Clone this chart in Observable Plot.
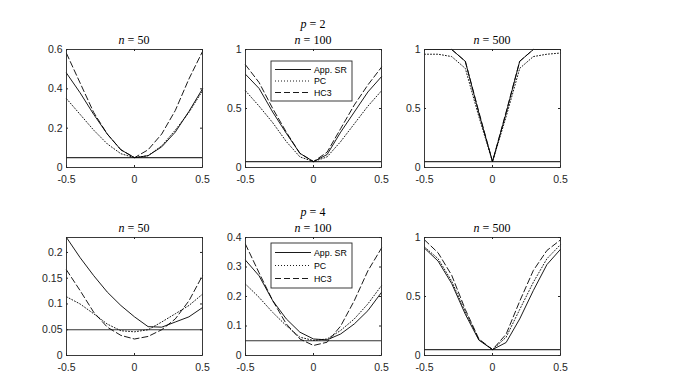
<!DOCTYPE html>
<html><head><meta charset="utf-8">
<script src="https://cdn.jsdelivr.net/npm/d3@7"></script>
<script src="https://cdn.jsdelivr.net/npm/@observablehq/plot@0.6"></script>
<style>
body{margin:0;background:#fff;}
#chart{position:relative;width:674px;height:375px;overflow:hidden;background:#fff;font-family:"Liberation Sans",Arial,sans-serif;}
.panel{position:absolute;}
.ttl{position:absolute;font-family:"Liberation Serif","Times New Roman",serif;font-size:12px;line-height:1;color:#000;white-space:nowrap;transform:translate(-50%,-50%);}
.leg{position:absolute;}
</style></head><body><div id="chart"></div>
<script>
// ---------- data ----------
const xValues = [-0.5,-0.4,-0.3,-0.2,-0.1,0,0.1,0.2,0.3,0.4,0.5];
const seriesNames = ["App. SR","PC","HC3"];
const nominalLevel = 0.05;
const pValues = [2,4];
const nValues = [50,100,500];
const xTicks = [-0.5,0,0.5];

// p = 2
const p2n50_SR  = [0.48,0.38,0.27,0.17,0.09,0.05,0.06,0.105,0.18,0.285,0.40];
const p2n50_PC  = [0.35,0.27,0.19,0.12,0.07,0.05,0.06,0.11,0.19,0.28,0.39];
const p2n50_HC3 = [0.58,0.43,0.28,0.17,0.09,0.05,0.09,0.17,0.29,0.45,0.59];
const p2n100_SR  = [0.79,0.67,0.47,0.29,0.12,0.05,0.11,0.30,0.47,0.64,0.77];
const p2n100_PC  = [0.65,0.52,0.38,0.22,0.09,0.05,0.09,0.22,0.37,0.52,0.65];
const p2n100_HC3 = [0.87,0.72,0.50,0.30,0.12,0.05,0.13,0.33,0.53,0.70,0.85];
const p2n500_SR  = [1.0,1.0,1.0,0.90,0.46,0.05,0.46,0.90,1.0,1.0,1.0];
const p2n500_PC  = [0.96,0.96,0.94,0.84,0.43,0.05,0.43,0.84,0.94,0.96,0.97];
const p2n500_HC3 = [1.0,1.0,1.0,0.90,0.47,0.05,0.47,0.90,1.0,1.0,1.0];
// p = 4
const p4n50_SR  = [0.229,0.19,0.155,0.123,0.097,0.075,0.056,0.055,0.065,0.075,0.093];
const p4n50_PC  = [0.114,0.10,0.081,0.061,0.048,0.046,0.05,0.065,0.081,0.097,0.119];
const p4n50_HC3 = [0.166,0.126,0.084,0.055,0.039,0.032,0.037,0.05,0.071,0.106,0.155];
const p4n100_SR  = [0.323,0.27,0.186,0.124,0.079,0.056,0.053,0.073,0.107,0.152,0.214];
const p4n100_PC  = [0.242,0.197,0.146,0.101,0.062,0.051,0.056,0.085,0.124,0.175,0.237];
const p4n100_HC3 = [0.377,0.28,0.186,0.107,0.056,0.034,0.045,0.10,0.186,0.287,0.364];
const p4n500_SR  = [0.91,0.80,0.61,0.35,0.13,0.05,0.11,0.31,0.55,0.77,0.90];
const p4n500_PC  = [0.92,0.82,0.63,0.37,0.135,0.05,0.155,0.39,0.62,0.82,0.94];
const p4n500_HC3 = [0.98,0.87,0.68,0.39,0.14,0.05,0.18,0.46,0.72,0.89,0.98];

const yDomains = [[0,0.6],[0,1],[0,1],[0,0.229],[0,0.4],[0,1]];
const yTickSets = [[0,0.2,0.4,0.6],[0,0.5,1],[0,0.5,1],[0,0.05,0.1,0.15,0.2],[0,0.1,0.2,0.3,0.4],[0,0.5,1]];

const panels = [
  [p2n50_SR,p2n50_PC,p2n50_HC3],[p2n100_SR,p2n100_PC,p2n100_HC3],[p2n500_SR,p2n500_PC,p2n500_HC3],
  [p4n50_SR,p4n50_PC,p4n50_HC3],[p4n100_SR,p4n100_PC,p4n100_HC3],[p4n500_SR,p4n500_PC,p4n500_HC3]
];

// ---------- layout ----------
const frameLefts = [66,245,424];
const frameTops = [49,237];
const frameW = 136, frameH = 118;
const mL = 34, mR = 12, mT = 4, mB = 22;
const dashes = [null, "1,2", "6,3"];
const axisColor = "#262626";
const fmt = d => String(d);
const chart = document.getElementById("chart");

panels.forEach((series, k) => {
  const row = Math.floor(k/3), col = k%3;
  const rows = [];
  series.forEach((vals,i) => vals.forEach((v,j) => rows.push({series:seriesNames[i], x:xValues[j], y:v})));
  const yT = yTickSets[k];
  const svg = Plot.plot({
    width: frameW+mL+mR, height: frameH+mT+mB,
    marginLeft:mL, marginRight:mR, marginTop:mT, marginBottom:mB,
    x:{domain:[-0.5,0.5], label:null}, y:{domain:yDomains[k], label:null},
    style:{fontFamily:'"Liberation Sans",Arial,sans-serif', fontSize:"10.5px", color:axisColor, background:"transparent", overflow:"visible"},
    marks:[
      Plot.ruleY([nominalLevel], {stroke:"#333", strokeWidth:1.1}),
      ...seriesNames.map((s,i) => Plot.line(rows.filter(r => r.series===s), {x:"x", y:"y", stroke:"#000", strokeWidth:0.9, strokeDasharray:dashes[i]})),
      Plot.frame({stroke:axisColor, strokeWidth:0.9}),
      Plot.tickX(xTicks, {x:d=>d, insetTop:frameH-2, stroke:axisColor}),
      Plot.tickX(xTicks, {x:d=>d, insetBottom:frameH-2, stroke:axisColor}),
      Plot.tickY(yT, {y:d=>d, insetRight:frameW-2, stroke:axisColor}),
      Plot.tickY(yT, {y:d=>d, insetLeft:frameW-2, stroke:axisColor}),
      Plot.axisX({ticks:xTicks, tickSize:0, tickPadding:8, tickFormat:fmt, label:null}),
      Plot.axisY({ticks:yT, tickSize:0, tickPadding:4, tickFormat:fmt, label:null})
    ]
  });
  const div = document.createElement("div");
  div.className = "panel";
  div.style.left = (frameLefts[col]-mL)+"px";
  div.style.top = (frameTops[row]-mT)+"px";
  div.appendChild(svg);
  chart.appendChild(div);

  // panel title n = ...
  const t = document.createElement("div");
  t.className = "ttl";
  t.style.left = (frameLefts[col]+frameW/2)+"px";
  t.style.top = (frameTops[row]-9.5)+"px";
  const it = document.createElement("i"); it.textContent = "n";
  t.appendChild(it); t.appendChild(document.createTextNode(" = "+nValues[col]));
  chart.appendChild(t);
});

// row titles p = ...
pValues.forEach((p,row) => {
  const t = document.createElement("div");
  t.className = "ttl";
  t.style.left = (frameLefts[1]+frameW/2)+"px";
  t.style.top = (frameTops[row]-25)+"px";
  const it = document.createElement("i"); it.textContent = "p";
  t.appendChild(it); t.appendChild(document.createTextNode(" = "+p));
  chart.appendChild(t);
});

// legends in middle panels
const legendBoxes = [{left:271, top:61, h:40, step:11.5}, {left:271, top:243, h:45, step:13}];
legendBoxes.forEach(b => {
  const w = 81;
  const svg = d3.create("svg").attr("width", w+2).attr("height", b.h+2)
    .attr("class","leg").style("left",(b.left-1)+"px").style("top",(b.top-1)+"px");
  svg.append("rect").attr("x",1).attr("y",1).attr("width",w).attr("height",b.h)
    .attr("fill","#fff").attr("stroke",axisColor).attr("stroke-width",0.9);
  const y0 = 1 + (b.h - 2*b.step)/2;
  seriesNames.forEach((s,i) => {
    const y = y0 + i*b.step;
    svg.append("line").attr("x1",5).attr("x2",41).attr("y1",y).attr("y2",y)
      .attr("stroke","#000").attr("stroke-width",0.9).attr("stroke-dasharray",dashes[i]);
    svg.append("text").attr("x",44).attr("y",y).attr("dy","0.35em")
      .attr("font-family",'"Liberation Sans",Arial,sans-serif').attr("font-size","8.8px")
      .attr("fill","#000").text(s);
  });
  chart.appendChild(svg.node());
});
</script>
</body></html>
